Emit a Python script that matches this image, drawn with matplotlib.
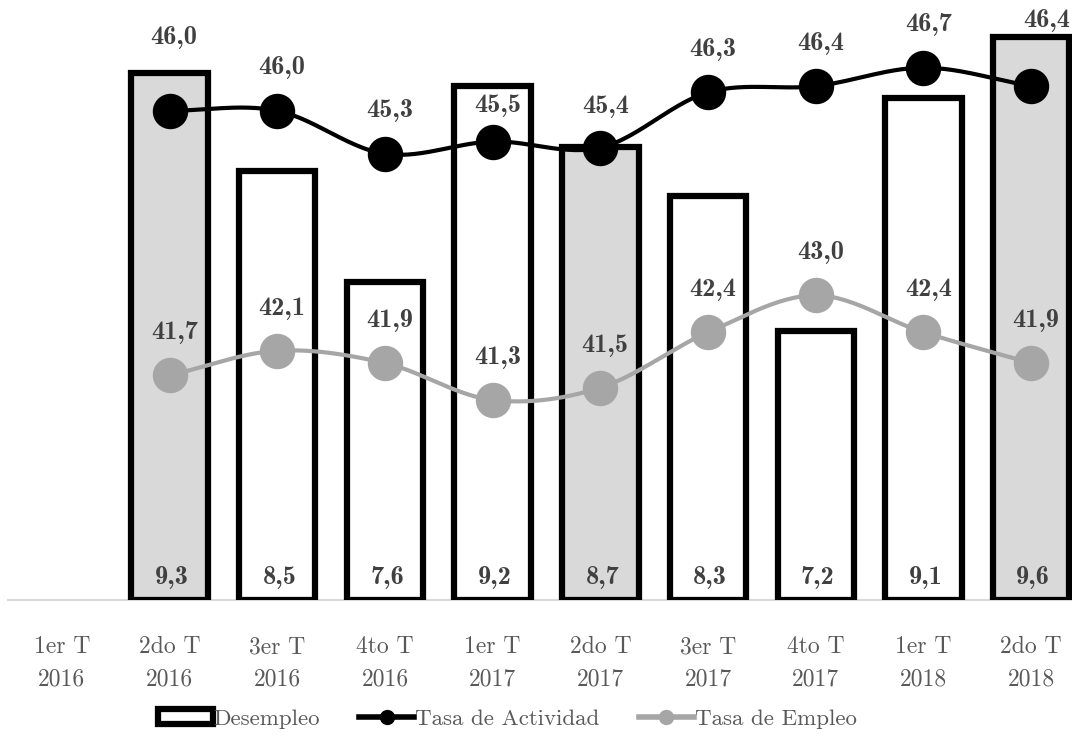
import numpy as np
import matplotlib
matplotlib.use("Agg")
import matplotlib.pyplot as plt
from matplotlib.patches import Patch
from matplotlib.lines import Line2D

categories = ["1er T\n2016", "2do T\n2016", "3er T\n2016", "4to T\n2016",
              "1er T\n2017", "2do T\n2017", "3er T\n2017", "4to T\n2017",
              "1er T\n2018", "2do T\n2018"]

# series start at 2do T 2016
desempleo = [9.3, 8.5, 7.6, 9.2, 8.7, 8.3, 7.2, 9.1, 9.6]
actividad = [46.0, 46.0, 45.3, 45.5, 45.4, 46.3, 46.4, 46.7, 46.4]
empleo = [41.7, 42.1, 41.9, 41.3, 41.5, 42.4, 43.0, 42.4, 41.9]
segundo_trim = [True, False, False, False, True, False, False, False, True]

TXT = "#404040"
TICK = "#595959"
GRAY_FILL = "#d9d9d9"
GRAY_LINE = "#a6a6a6"

# label offsets (points) for the activity series; a few were nudged clear of bars
act_off = [(3, 53), (3.5, 31), (3.5, 31), (3.5, 26), (3.5, 30),
           (3.5, 31), (3.5, 31), (3.5, 31), (11, 47.5)]


def smooth(xs, ys, n=30):
    # Catmull-Rom curve through the points, like a spreadsheet "smoothed line"
    xs = np.asarray(xs, float)
    ys = np.asarray(ys, float)
    px = np.concatenate([[2 * xs[0] - xs[1]], xs, [2 * xs[-1] - xs[-2]]])
    py = np.concatenate([[2 * ys[0] - ys[1]], ys, [2 * ys[-1] - ys[-2]]])
    outx, outy = [], []
    t = np.linspace(0, 1, n)
    for i in range(1, len(px) - 2):
        for p, out in ((px, outx), (py, outy)):
            p0, p1, p2, p3 = p[i - 1], p[i], p[i + 1], p[i + 2]
            out.extend(0.5 * ((2 * p1) + (-p0 + p2) * t
                              + (2 * p0 - 5 * p1 + 4 * p2 - p3) * t ** 2
                              + (-p0 + 3 * p1 - 3 * p2 + p3) * t ** 3))
    return np.array(outx), np.array(outy)


def fmt(v):
    return f"{v:.1f}".replace(".", ",")


fig = plt.figure(figsize=(10.72, 7.39), dpi=100)
ax = fig.add_axes([8 / 1072, 139 / 739, 1077 / 1072, 600 / 739])
ax2 = ax.twinx()

x_all = np.arange(len(categories))
x = x_all[1:]

# bars (unemployment) on the base axis so lines sit on top
for xi, v, g in zip(x, desempleo, segundo_trim):
    ax.bar(xi, v - 5.0, bottom=5.0, width=0.71,
           facecolor=GRAY_FILL if g else "white",
           edgecolor="black", linewidth=4.5, zorder=2)
    ax.annotate(fmt(v), (xi, 5.0), xytext=(1.5, 16),
                textcoords="offset points", ha="center", va="center",
                fontsize=19, family="cmb10", color=TXT, zorder=5)

ax.set_ylim(5.0, 9.9)
ax.set_xlim(-0.5, len(categories) - 0.5)

for series, col, offs in ((actividad, "black", act_off),
                          (empleo, GRAY_LINE, [(3.5, 30.6)] * len(empleo))):
    sx, sy = smooth(x, series)
    ax2.plot(sx, sy, color=col, linewidth=3, zorder=3, solid_capstyle="round")
    ax2.plot(x, series, "o", color=col, markersize=24.5, zorder=4)
    for xi, v, off in zip(x, series, offs):
        ax2.annotate(fmt(v), (xi, v), xytext=off,
                     textcoords="offset points", ha="center", va="center",
                     fontsize=19, family="cmb10", color=TXT)

ax2.set_ylim(38.05, 47.8)

ax.set_xticks(x_all)
ax.set_xticklabels(categories, fontsize=17, family="cmr10", color=TICK,
                   linespacing=1.6)
ax.tick_params(axis="x", length=0, pad=26)
ax.set_yticks([])
ax2.set_yticks([])
for a in (ax, ax2):
    for s in ("top", "left", "right"):
        a.spines[s].set_visible(False)
    a.spines["bottom"].set_color(GRAY_FILL)
    a.spines["bottom"].set_linewidth(1.5)
ax2.spines["bottom"].set_visible(False)
ax.spines["bottom"].set_zorder(1)

handles = [
    Patch(facecolor="white", edgecolor="black", linewidth=4.5, label="Desempleo"),
    Line2D([], [], color="black", linewidth=4, marker="o", markersize=10,
           label="Tasa de Actividad"),
    Line2D([], [], color=GRAY_LINE, linewidth=4, marker="o", markersize=10,
           label="Tasa de Empleo"),
]
fig.legend(handles=handles, loc="center", bbox_to_anchor=(0.473, 1 - 719 / 739),
           ncol=3, frameon=False, handlelength=2.4, handleheight=0.65,
           handletextpad=0.05, columnspacing=1.7,
           prop={"family": "cmr10", "size": 16.5}, labelcolor=TICK)

fig.savefig("out.png", dpi=100)
